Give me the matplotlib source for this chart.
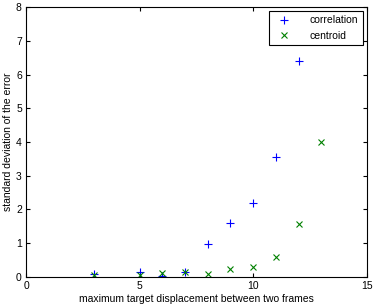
import matplotlib
matplotlib.use("Agg")
import matplotlib.pyplot as plt

plt.rcParams['font.family'] = ['Liberation Sans', 'DejaVu Sans']

corr_x = [3, 5, 6, 7, 8, 9, 10, 11, 12]
corr_y = [0.08, 0.14, 0.03, 0.14, 0.99, 1.61, 2.2, 3.56, 6.4]
cent_x = [3, 5, 6, 7, 8, 9, 10, 11, 12, 13]
cent_y = [0.07, 0.06, 0.11, 0.15, 0.09, 0.22, 0.29, 0.59, 1.58, 4.0]

fig = plt.figure(figsize=(3.77, 3.07), dpi=100)
ax = fig.add_axes([0.069, 0.098, 0.904, 0.879])

ax.plot(corr_x, corr_y, '+', color='#0000ff', markersize=6, mew=0.8, label='correlation')
ax.plot(cent_x, cent_y, 'x', color='#008000', markersize=4, mew=0.8, label='centroid')

ax.set_xlim(0, 15)
ax.set_ylim(0, 8)
ax.set_xticks([0, 5, 10, 15])
ax.set_yticks(range(0, 9))
ax.tick_params(direction='in', top=True, right=True, labelsize=7.5, length=3, pad=3)
ax.set_xlabel('maximum target displacement between two frames', fontsize=7.5, labelpad=2)
ax.set_ylabel('standard deviation of the error', fontsize=7.5, labelpad=2)

leg = ax.legend(loc='upper right', fontsize=7.5, fancybox=False, edgecolor='black',
                framealpha=1, handletextpad=1.5, borderaxespad=0.4)
leg.get_frame().set_linewidth(0.8)

fig.savefig('out.png', dpi=100)
